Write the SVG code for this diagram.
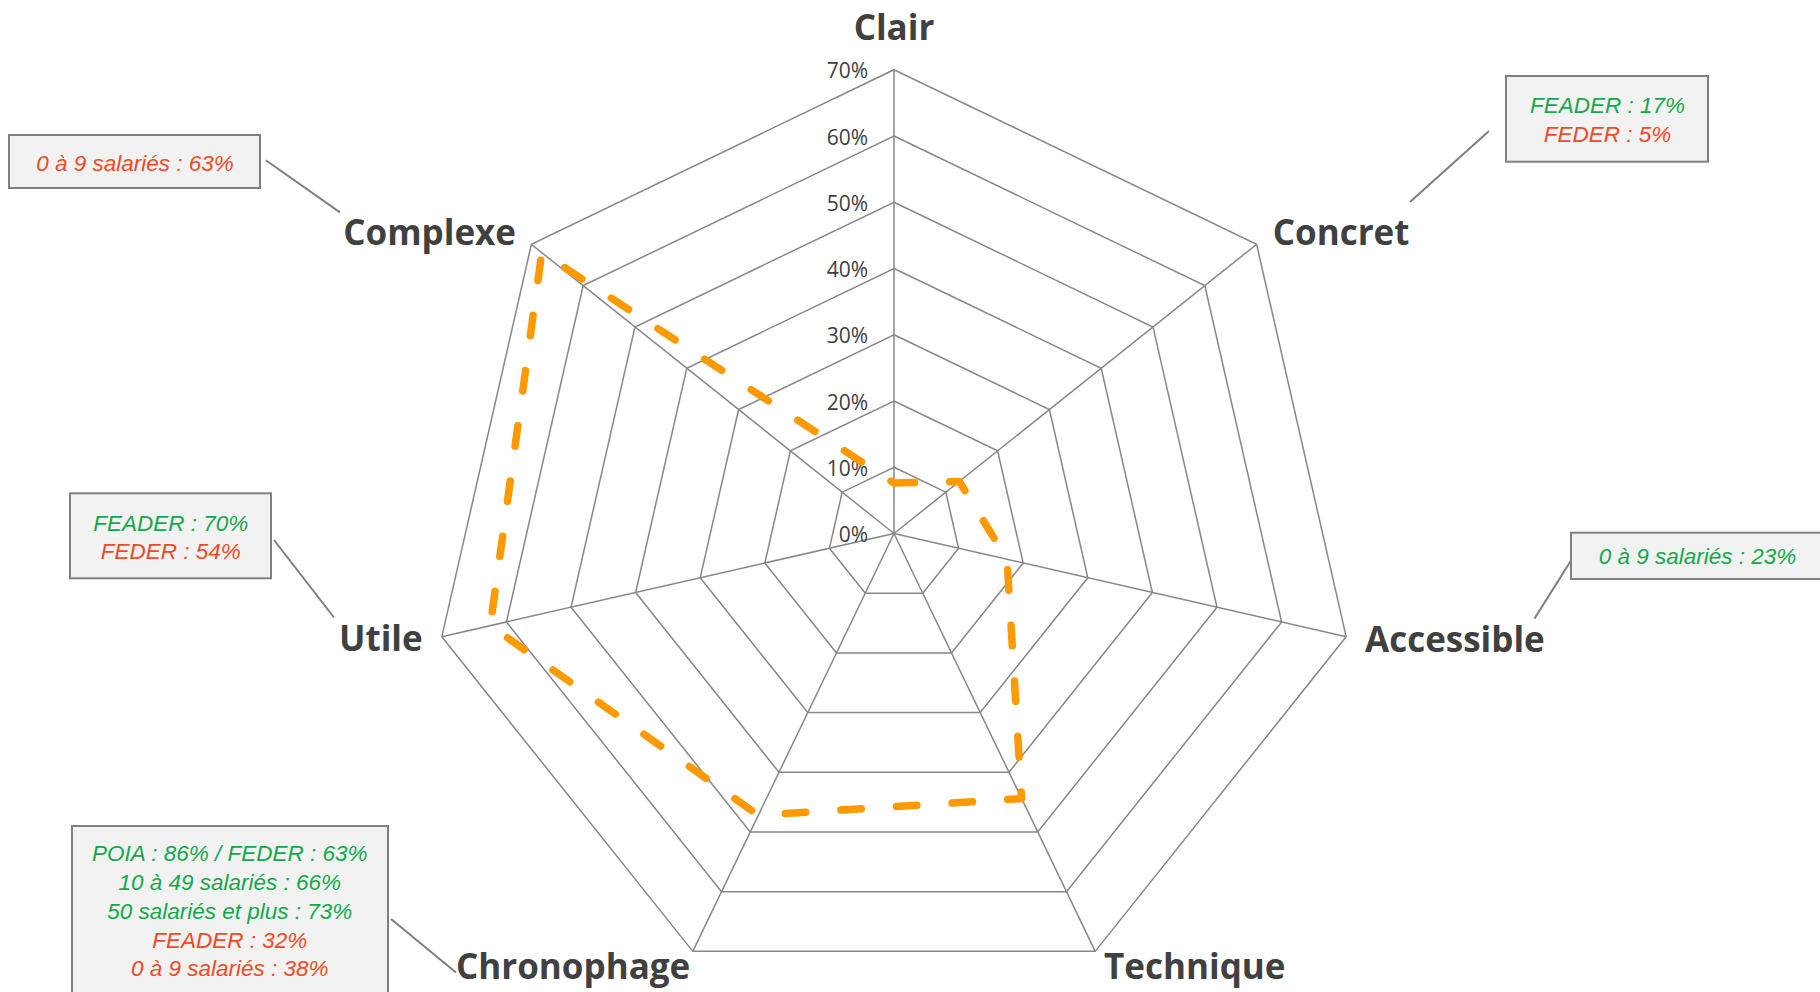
<svg xmlns="http://www.w3.org/2000/svg" width="1820" height="992" viewBox="0 0 1820 992">
<style>
.grid{fill:none;stroke:#878787;stroke-width:1.5}
.axis{stroke:#878787;stroke-width:1.5}
.tick{font-family:"Open Sans","Liberation Sans",sans-serif;font-size:21px;fill:#404040;text-anchor:end}
.lbl{font-family:"Open Sans","Liberation Sans",sans-serif;font-size:35px;font-weight:700;fill:#404040}
.box{fill:#F2F2F2;stroke:#808080;stroke-width:2}
.note{font-family:"Liberation Sans","Open Sans",sans-serif;font-size:22.5px;font-style:italic;text-anchor:middle}
.g{fill:#14A84B}
.r{fill:#EF4A25}
.lead{stroke:#7F7F7F;stroke-width:2;fill:none}
.data{fill:none;stroke:#FF9900;stroke-width:7.5;stroke-linecap:round;stroke-linejoin:round;stroke-dasharray:20.5 35.2}
</style>
<rect width="1820" height="992" fill="#FFFFFF"/>
<g id="grid">
<polygon class="grid" points="894,467.24 945.80,492.19 958.60,548.24 922.75,593.20 865.25,593.20 829.40,548.24 842.20,492.19"/>
<polygon class="grid" points="894,400.99 997.60,450.88 1023.19,562.99 951.50,652.89 836.50,652.89 764.81,562.99 790.40,450.88"/>
<polygon class="grid" points="894,334.73 1049.41,409.57 1087.79,577.73 980.24,712.59 807.76,712.59 700.21,577.73 738.59,409.57"/>
<polygon class="grid" points="894,268.47 1101.21,368.26 1152.38,592.47 1008.99,772.28 779.01,772.28 635.62,592.47 686.79,368.26"/>
<polygon class="grid" points="894,202.21 1153.01,326.95 1216.98,607.22 1037.74,831.98 750.26,831.98 571.02,607.22 634.99,326.95"/>
<polygon class="grid" points="894,135.96 1204.81,285.64 1281.58,621.96 1066.49,891.67 721.51,891.67 506.42,621.96 583.19,285.64"/>
<polygon class="grid" points="894,69.7 1256.61,244.33 1346.17,636.70 1095.23,951.37 692.77,951.37 441.83,636.70 531.39,244.33"/>
<line class="axis" x1="894" y1="533.5" x2="894" y2="69.7"/>
<line class="axis" x1="894" y1="533.5" x2="1256.61" y2="244.33"/>
<line class="axis" x1="894" y1="533.5" x2="1346.17" y2="636.70"/>
<line class="axis" x1="894" y1="533.5" x2="1095.23" y2="951.37"/>
<line class="axis" x1="894" y1="533.5" x2="692.77" y2="951.37"/>
<line class="axis" x1="894" y1="533.5" x2="441.83" y2="636.70"/>
<line class="axis" x1="894" y1="533.5" x2="531.39" y2="244.33"/>
</g>
<g id="ticks">
<text class="tick" x="868" y="78">70%</text>
<text class="tick" x="868" y="144.5">60%</text>
<text class="tick" x="868" y="210.7">50%</text>
<text class="tick" x="868" y="277">40%</text>
<text class="tick" x="868" y="343.2">30%</text>
<text class="tick" x="868" y="409.5">20%</text>
<text class="tick" x="868" y="475.7">10%</text>
<text class="tick" x="868" y="542">0%</text>
</g>
<g id="series">
<polygon class="data" points="894,483.1 959.3,481.4 1007.0,559.3 1021.6,798.6 758.3,815.2 490.3,625.6 541.8,252.6"/>
</g>
<g id="connectors">
<line class="lead" x1="265.8" y1="160.2" x2="340" y2="212.4"/>
<line class="lead" x1="1489" y1="131" x2="1410" y2="202"/>
<line class="lead" x1="274" y1="540" x2="334" y2="617.5"/>
<line class="lead" x1="1571.6" y1="559.5" x2="1534.5" y2="618.6"/>
<line class="lead" x1="391" y1="919" x2="456" y2="972.6"/>
</g>
<g id="label-clair"><text class="lbl" x="894" y="40" text-anchor="middle">Clair</text></g>
<g id="label-concret"><text class="lbl" x="1272.7" y="245">Concret</text></g>
<g id="label-accessible"><text class="lbl" x="1365" y="652">Accessible</text></g>
<g id="label-technique"><text class="lbl" x="1104" y="979">Technique</text></g>
<g id="label-chronophage"><text class="lbl" x="456" y="979">Chronophage</text></g>
<g id="label-utile"><text class="lbl" x="422.7" y="651" text-anchor="end">Utile</text></g>
<g id="label-complexe"><text class="lbl" x="516" y="245" text-anchor="end">Complexe</text></g>
<g id="note-complexe">
<rect class="box" x="9" y="135" width="251" height="53"/>
<text class="note r" x="135" y="170.5">0 à 9 salariés : 63%</text>
</g>
<g id="note-concret">
<rect class="box" x="1506" y="76" width="202" height="85.7"/>
<text class="note g" x="1607.5" y="113.3">FEADER : 17%</text>
<text class="note r" x="1607.5" y="142.3">FEDER : 5%</text>
</g>
<g id="note-utile">
<rect class="box" x="70" y="493.3" width="201" height="85"/>
<text class="note g" x="170.8" y="530.7">FEADER : 70%</text>
<text class="note r" x="170.8" y="559">FEDER : 54%</text>
</g>
<g id="note-accessible">
<rect class="box" x="1571" y="532.7" width="255" height="46.3"/>
<text class="note g" x="1697.5" y="564">0 à 9 salariés : 23%</text>
</g>
<g id="note-chronophage">
<rect class="box" x="72" y="826" width="316" height="175"/>
<text class="note g" x="229.8" y="861">POIA : 86% / FEDER : 63%</text>
<text class="note g" x="229.8" y="890">10 à 49 salariés : 66%</text>
<text class="note g" x="229.8" y="919">50 salariés et plus : 73%</text>
<text class="note r" x="229.8" y="947.5">FEADER : 32%</text>
<text class="note r" x="229.8" y="976">0 à 9 salariés : 38%</text>
</g>
</svg>
